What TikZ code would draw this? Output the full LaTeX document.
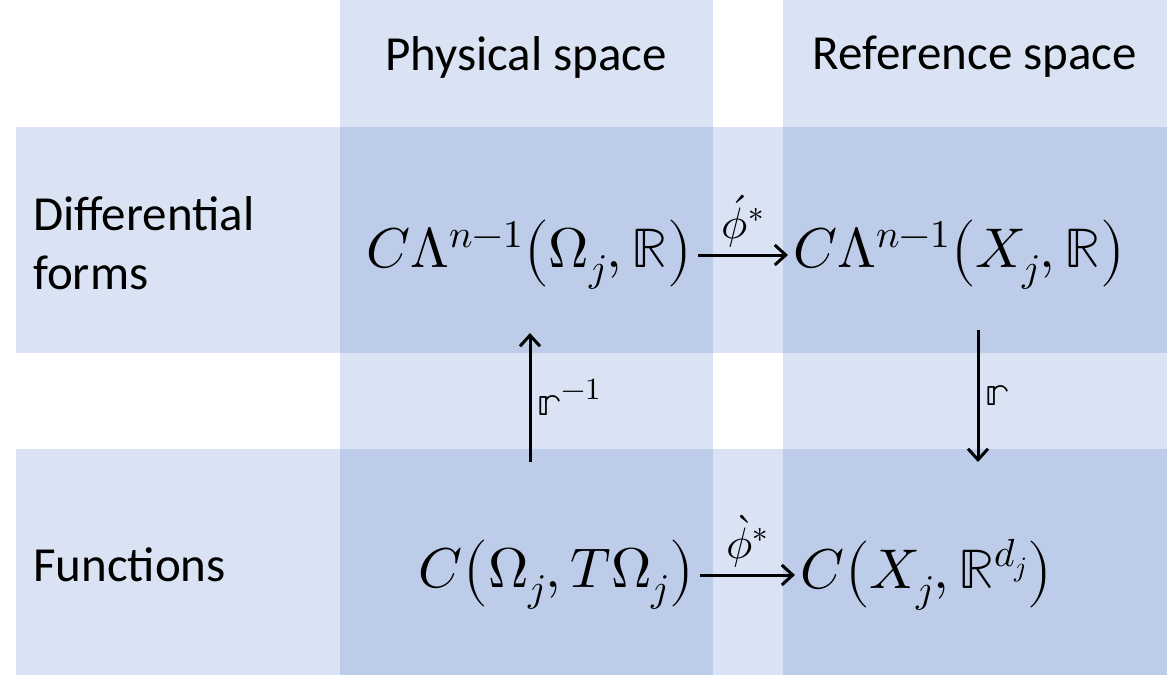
\documentclass[tikz,border=0pt]{standalone}
\usepackage{fontspec}
\usepackage{unicode-math}
\setmainfont{Carlito}
\setmathfont{Latin Modern Math}
\usetikzlibrary{arrows.meta}
\definecolor{lightb}{HTML}{DAE3F3}
\definecolor{darkb}{HTML}{BDCCE8}
\begin{document}
\begin{tikzpicture}[x=1pt,y=-1pt,
  lab/.style={font=\fontsize{49}{59}\selectfont, inner sep=0pt},
  mth/.style={font=\fontsize{56}{60}\selectfont, inner sep=5pt},
  arr/.style={line width=3pt,-{Straight Barb[length=11pt,width=20pt,line width=3pt]}},
  alab/.style={font=\fontsize{44}{48}\selectfont, inner sep=2pt}]
\useasboundingbox (0,0) rectangle (1173,675);
\fill[lightb] (16,127) rectangle (1167,353);
\fill[lightb] (16,449) rectangle (1167,675);
\fill[lightb] (340,0) rectangle (713,675);
\fill[lightb] (783,0) rectangle (1167,675);
\foreach \ya/\yb in {127/353,449/675}{
  \fill[darkb] (340,\ya) rectangle (713,\yb);
  \fill[darkb] (783,\ya) rectangle (1167,\yb);}
\node[lab] (ph) at (526,57) {Physical space};
\node[lab] (rs) at (975,57) {Reference space};
\node[lab,anchor=west,align=left] (df) at (33,243) {Differential\\forms};
\node[lab,anchor=west] (fn) at (33,565) {Functions};
\node[mth,anchor=east] (a) at (698,255) {$C\Lambda^{n-1}\bigl(\Omega_j,\mathbb{R}\bigr)$};
\node[mth,anchor=west] (b) at (788,255) {$C\Lambda^{n-1}\bigl(X_j,\mathbb{R}\bigr)$};
\node[mth,anchor=east] (c) at (700,575) {$C\bigl(\Omega_j,T\Omega_j\bigr)$};
\node[mth,anchor=west] (d) at (795,575) {$C\bigl(X_j,\mathbb{R}^{d_j}\bigr)$};
\draw[arr] (a.east) -- node[alab,above=4pt]{$\acute{\phi}^*$} (b.west);
\draw[arr] (c.east) -- node[alab,above=4pt]{$\grave{\phi}^*$} (d.west);
\coordinate (ut) at (530,333); \coordinate (ub) at (530,462);
\coordinate (dt) at (978,330); \coordinate (db) at (978,462);
\draw[arr] (ub) -- node[alab,right=4pt]{$𝕣^{-1}$} (ut);
\draw[arr] (dt) -- node[alab,right=4pt]{$𝕣$} (db);
\end{tikzpicture}
\end{document}
